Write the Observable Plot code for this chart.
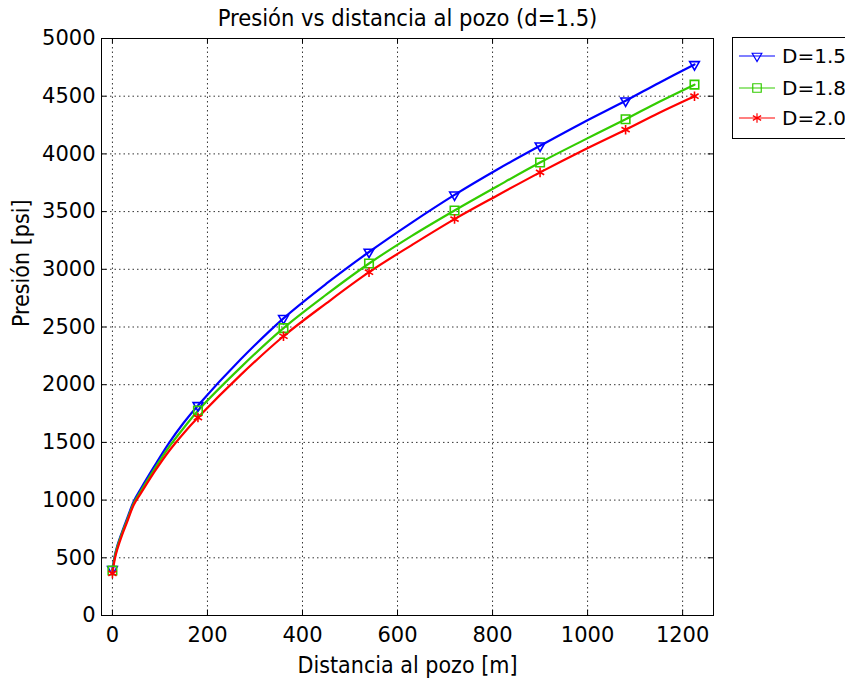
<!DOCTYPE html>
<html>
<head>
<meta charset="utf-8">
<script src="https://cdn.jsdelivr.net/npm/d3@7"></script>
<script src="https://cdn.jsdelivr.net/npm/@observablehq/plot@0.6"></script>
<style>
  html, body { margin: 0; padding: 0; background: #fff; }
  #chart svg { display: block; }
</style>
</head>
<body>
<div id="chart"></div>
<script>
// Distances along the curves [m]
const distance = [0, 5, 10, 20, 30, 45, 60, 90, 120, 150, 180, 270, 360, 450, 540, 630, 720, 810, 900, 990, 1080, 1150, 1225];
// Pressure [psi] for each series
const pD15 = [400, 520, 600, 720, 830, 990, 1100, 1305, 1500, 1670, 1820, 2220, 2575, 2875, 3150, 3405, 3645, 3865, 4070, 4270, 4460, 4615, 4775];
const pD18 = [390, 510, 590, 710, 815, 975, 1080, 1280, 1465, 1625, 1775, 2150, 2490, 2780, 3050, 3290, 3510, 3720, 3925, 4115, 4300, 4450, 4600];
const pD20 = [365, 490, 570, 695, 800, 960, 1060, 1255, 1430, 1580, 1715, 2085, 2420, 2705, 2975, 3210, 3435, 3640, 3840, 4030, 4210, 4355, 4500];
// Distances where markers are drawn
const markerDistances = [0, 180, 360, 540, 720, 900, 1080, 1225];
const seriesNames = ["D=1.5", "D=1.8", "D=2.0"];
const seriesColors = ["#0000ff", "#33cc00", "#ff0000"];
const seriesSymbols = ["triangle", "square", "asterisk"];
const xTicks = [0, 200, 400, 600, 800, 1000, 1200];
const yTicks = [0, 500, 1000, 1500, 2000, 2500, 3000, 3500, 4000, 4500, 5000];

const seriesValues = [pD15, pD18, pD20];
const rows = [];
seriesNames.forEach((name, s) => {
  distance.forEach((d, i) => rows.push({series: name, distance: d, pressure: seriesValues[s][i]}));
});
const markers = rows.filter(r => markerDistances.includes(r.distance));

const font = "DejaVu Sans";
const labelFont = "DejaVu Sans Condensed";
const xMin = -23, xMax = 1265, yMin = 0, yMax = 5000;
const fmt = d => String(d);

const chart = Plot.plot({
  width: 845,
  height: 687,
  marginLeft: 101,
  marginRight: 132,
  marginTop: 38,
  marginBottom: 72,
  style: {fontFamily: font, fontSize: "21px", background: "#fff", color: "#000"},
  x: {domain: [xMin, xMax]},
  y: {domain: [yMin, yMax]},
  color: {domain: seriesNames, range: seriesColors},
  symbol: {domain: seriesNames, range: seriesSymbols},
  marks: [
    Plot.ruleX(xTicks, {stroke: "#000", strokeWidth: 1, strokeDasharray: "1.5,3", strokeOpacity: 0.8}),
    Plot.ruleY(yTicks, {stroke: "#000", strokeWidth: 1, strokeDasharray: "1.5,3", strokeOpacity: 0.8}),
    // small inward tick marks on the frame
    Plot.ruleX(xTicks, {y1: yMin, y2: yMin + 45, stroke: "#000"}),
    Plot.ruleX(xTicks, {y1: yMax - 45, y2: yMax, stroke: "#000"}),
    Plot.ruleY(yTicks, {x1: xMin, x2: xMin + 11, stroke: "#000"}),
    Plot.ruleY(yTicks, {x1: xMax - 11, x2: xMax, stroke: "#000"}),
    Plot.line(rows, {x: "distance", y: "pressure", z: "series", stroke: "series", strokeWidth: 2.2, curve: "catmull-rom"}),
    Plot.dot(markers.filter(d => d.series === "D=1.5"), {x: "distance", y: "pressure", symbol: "series", stroke: "series", r: 3.6, strokeWidth: 1.6, rotate: 180}),
    Plot.dot(markers.filter(d => d.series === "D=1.8"), {x: "distance", y: "pressure", symbol: "series", stroke: "series", r: 4.8, strokeWidth: 1.6}),
    Plot.dot(markers.filter(d => d.series === "D=2.0"), {x: "distance", y: "pressure", symbol: "series", stroke: "series", r: 4.5, strokeWidth: 1.6}),
    Plot.frame({stroke: "#000", strokeWidth: 1}),
    Plot.axisX(xTicks, {anchor: "bottom", tickSize: 0, tickPadding: 12, fontSize: 21, tickFormat: fmt, label: null}),
    Plot.axisY(yTicks, {anchor: "left", tickSize: 0, tickPadding: 6, fontSize: 21, tickFormat: fmt, label: null}),
    Plot.text(["Distancia al pozo [m]"], {frameAnchor: "bottom", dy: 50, lineAnchor: "middle", fontSize: 23, fontFamily: labelFont, fill: "#000"}),
    Plot.text(["Presión [psi]"], {frameAnchor: "left", dx: -80, rotate: -90, fontSize: 23, fontFamily: labelFont, fill: "#000"}),
    Plot.text(["Presión vs distancia al pozo (d=1.5)"], {frameAnchor: "top", dy: -20, lineAnchor: "middle", fontSize: 23.5, fontFamily: labelFont, fill: "#000"})
  ]
});

// Legend box to the right of the plot
const svg = d3.select(chart);
const lg = svg.append("g").attr("font-family", font).attr("font-size", 20).attr("text-anchor", "start");
lg.append("rect").attr("x", 732.5).attr("y", 37.5).attr("width", 130).attr("height", 101)
  .attr("fill", "#fff").attr("stroke", "#000");
const legendY = [56, 88, 118];
const legendSizes = [40, 72, 64];
seriesNames.forEach((name, i) => {
  const y = legendY[i];
  lg.append("line").attr("x1", 739).attr("x2", 775).attr("y1", y).attr("y2", y)
    .attr("stroke", seriesColors[i]).attr("stroke-width", 1.2);
  const sym = {triangle: d3.symbolTriangle, square: d3.symbolSquare, asterisk: d3.symbolAsterisk}[seriesSymbols[i]];
  lg.append("path").attr("d", d3.symbol(sym, legendSizes[i])())
    .attr("transform", `translate(757,${y})` + (i === 0 ? " rotate(180)" : ""))
    .attr("fill", "none").attr("stroke", seriesColors[i]).attr("stroke-width", 1.2);
  lg.append("text").attr("x", 782).attr("y", y).attr("dy", "0.36em").attr("text-anchor", "start").text(name);
});

document.getElementById("chart").appendChild(chart);
</script>
</body>
</html>
